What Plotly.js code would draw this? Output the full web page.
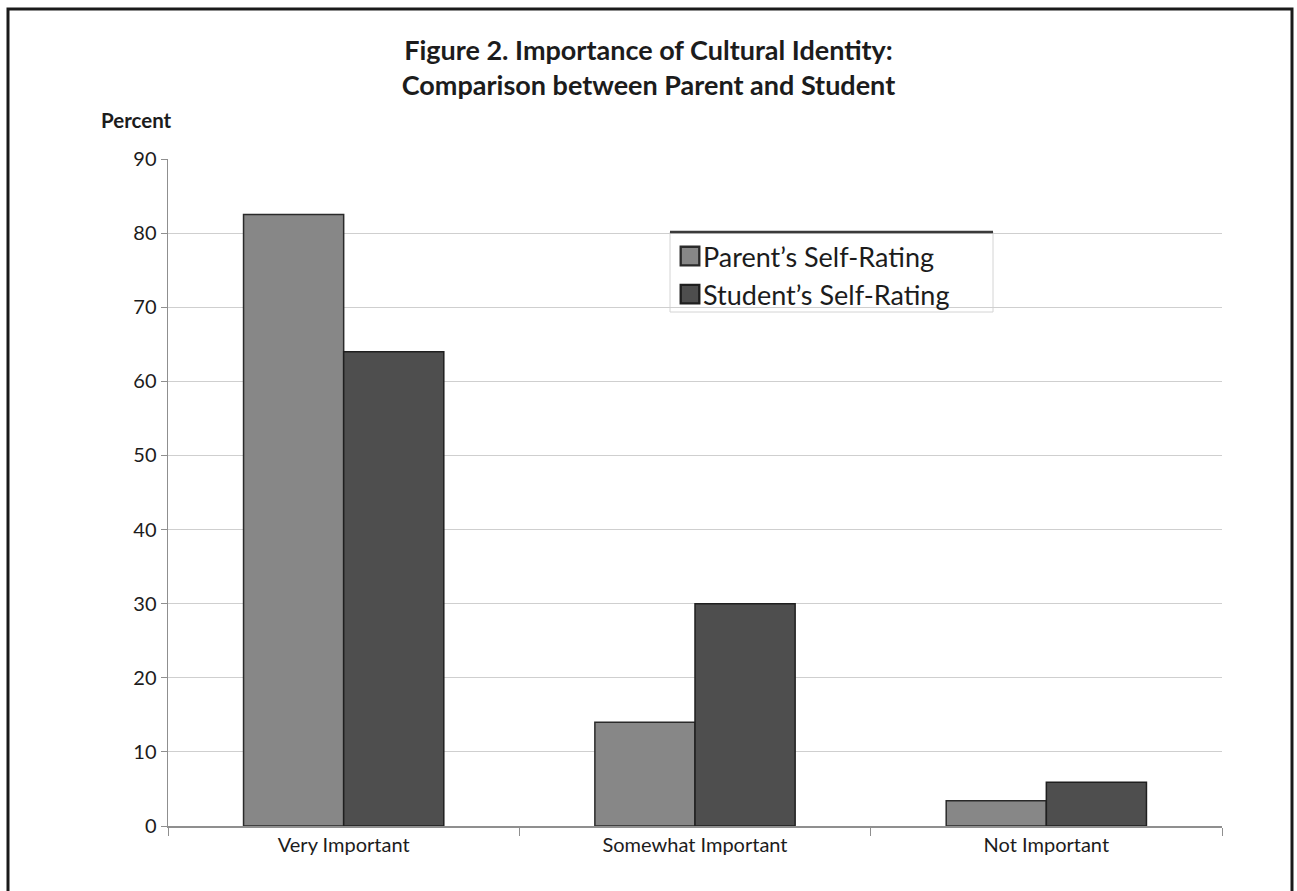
<!DOCTYPE html>
<html>
<head>
<meta charset="utf-8">
<script src="https://cdn.plot.ly/plotly-3.0.1.min.js"></script>
<style>
  html, body { margin: 0; padding: 0; background: #ffffff; }
  #chart { width: 1297px; height: 891px; }
</style>
</head>
<body>
<div id="chart"></div>
<script>
// Importance of cultural identity, percent of respondents
const categories = ['Very Important', 'Somewhat Important', 'Not Important'];
const parentRating = [82.5, 14, 3.4];
const studentRating = [64, 30, 5.9];
const seriesNames = ["Parent\u2019s Self-Rating", "Student\u2019s Self-Rating"];
const yTicks = [0, 10, 20, 30, 40, 50, 60, 70, 80, 90];

const W = 1297, H = 891;
const M = { l: 168, r: 75, t: 159, b: 65 };
const plotW = W - M.l - M.r, plotH = H - M.t - M.b;
// pixel -> paper coordinate helpers for the frame and legend overlays
const px = x => (x - M.l) / plotW;
const py = y => (H - M.b - y) / plotH;

const FONT = 'Lato, "Open Sans", sans-serif';
const INK = '#1c1c1c';

const traces = [
  {
    type: 'bar', name: seriesNames[0], x: categories, y: parentRating,
    marker: { color: '#878787', line: { color: '#2a2a2a', width: 1.5 } }
  },
  {
    type: 'bar', name: seriesNames[1], x: categories, y: studentRating,
    marker: { color: '#4e4e4e', line: { color: '#1f1f1f', width: 1.5 } }
  }
];

const layout = {
  width: W, height: H,
  margin: M,
  paper_bgcolor: '#ffffff',
  plot_bgcolor: '#ffffff',
  font: { family: FONT, color: INK, size: 20 },
  title: {
    text: '<b>Figure 2. Importance of Cultural Identity:<br>Comparison between Parent and Student</b>',
    font: { family: FONT, size: 27, color: INK },
    x: 0.5, xanchor: 'center', y: 1 - 60 / H, yanchor: 'top'
  },
  barmode: 'group',
  bargap: 0.43,
  bargroupgap: 0,
  showlegend: true,
  legend: {
    x: px(670), y: py(232), xanchor: 'left', yanchor: 'top',
    bgcolor: 'rgba(0,0,0,0)', bordercolor: 'rgba(0,0,0,0)', borderwidth: 0,
    font: { family: FONT, size: 27, color: INK },
    tracegroupgap: 4, itemwidth: 30
  },
  xaxis: {
    type: 'category',
    showline: true, linecolor: '#8f8f8f', linewidth: 1.5,
    ticks: 'outside', tickson: 'boundaries', ticklen: 8, tickcolor: '#8f8f8f',
    showgrid: false,
    tickfont: { family: FONT, size: 20, color: INK }
  },
  yaxis: {
    range: [0, 90],
    tickvals: yTicks,
    ticks: 'outside', ticklen: 6, tickcolor: '#8f8f8f',
    showline: true, linecolor: '#8f8f8f', linewidth: 1.5,
    showgrid: true, gridcolor: '#cfcfcf', gridwidth: 1,
    zeroline: false,
    tickfont: { family: FONT, size: 20, color: INK }
  },
  annotations: [
    {
      text: '<b>Percent</b>', xref: 'paper', yref: 'paper',
      x: px(99), y: py(120), xanchor: 'left', yanchor: 'middle',
      showarrow: false, font: { family: FONT, size: 20.5, color: INK }
    }
  ],
  shapes: [
    // outer frame
    {
      type: 'rect', xref: 'paper', yref: 'paper', layer: 'above',
      x0: px(8), x1: px(1292), y0: py(893), y1: py(9),
      line: { color: '#1a1a1a', width: 3 }, fillcolor: 'rgba(0,0,0,0)'
    },
    // legend box
    {
      type: 'rect', xref: 'paper', yref: 'paper', layer: 'below',
      x0: px(670), x1: px(993), y0: py(312), y1: py(232),
      line: { color: '#d4d4d4', width: 1 }, fillcolor: '#ffffff'
    },
    // heavier top rule of the legend box
    {
      type: 'line', xref: 'paper', yref: 'paper', layer: 'above',
      x0: px(670), x1: px(993), y0: py(232), y1: py(232),
      line: { color: '#3a3a3a', width: 2.5 }
    }
  ]
};

Plotly.newPlot('chart', traces, layout, { displayModeBar: false, staticPlot: true }).then(gd => {
  // enlarge the legend swatches, keeping their own placement
  gd.querySelectorAll('.legendpoints path').forEach(p => {
    const t = p.getAttribute('transform') || '';
    p.setAttribute('transform', t + ' scale(1.55)');
  });
  // pull the legend labels a little closer to their swatches
  gd.querySelectorAll('.legendtext').forEach(t => {
    const x = parseFloat(t.getAttribute('x') || '0');
    t.setAttribute('x', x - 7);
  });
});
</script>
</body>
</html>
